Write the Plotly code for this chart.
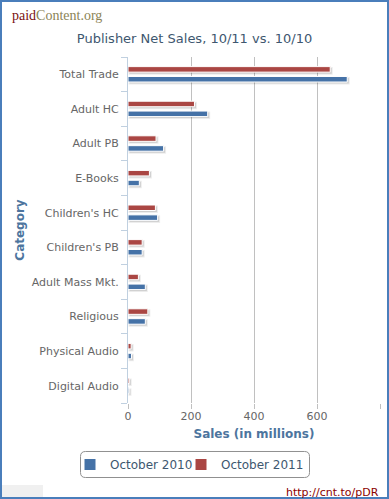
import plotly.graph_objects as go

categories = ["Total Trade", "Adult HC", "Adult PB", "E-Books", "Children's HC",
              "Children's PB", "Adult Mass Mkt.", "Religious", "Physical Audio", "Digital Audio"]
oct_2010 = [696, 253, 113, 36, 94, 45, 55, 55, 11, 3]
oct_2011 = [642, 211, 89, 68, 87, 45, 33, 63, 10, 4]
x_ticks = [0, 200, 400, 600, 800]

W, H = 389, 499
L, R, T, B = 128, 9, 57, 96
pw, ph = W - L - R, H - T - B

def px(x):
    return (x - L) / pw

def py(y):
    return (H - B - y) / ph

font_family = "DejaVu Sans, Verdana, sans-serif"
XR = [0, 800]
YR = [-0.5, len(categories) - 0.5]
# shadow offset (px) converted to axis units
sdx = 1.5 * (XR[1] - XR[0]) / pw
sdy = 1.5 * (YR[1] - YR[0]) / ph

fig = go.Figure()
series = [("October 2010", oct_2010, "#4572A7", 66), ("October 2011", oct_2011, "#AA4643", 90)]
# invisible copies on the main axes so that the visible axes get their categories
for name, vals, col, lw in series:
    fig.add_trace(go.Bar(
        y=categories, x=vals, name=name, orientation="h", showlegend=False,
        hoverinfo="skip", marker=dict(color=col, opacity=0),
    ))
# soft shadows (hidden, slightly shifted overlay axis pair)
for name, vals, col, lw in series:
    fig.add_trace(go.Bar(
        y=categories, x=vals, name=name, orientation="h", showlegend=False,
        hoverinfo="skip", xaxis="x2", yaxis="y2",
        marker=dict(color="rgba(0,0,0,0.13)", line=dict(color="rgba(0,0,0,0.07)", width=2)),
    ))
# visible bars
for name, vals, col, lw in series:
    fig.add_trace(go.Bar(
        y=categories, x=vals, name=name, orientation="h", xaxis="x3", yaxis="y3",
        legendwidth=lw,
        marker=dict(color=col, line=dict(color="white", width=1)),
    ))

hidden = dict(visible=False, showgrid=False, zeroline=False)
fig.update_layout(
    width=W, height=H,
    margin=dict(l=L, r=R, t=T, b=B, autoexpand=False),
    paper_bgcolor="white", plot_bgcolor="white",
    barmode="group", bargap=0.43, bargroupgap=0.44,
    font=dict(family=font_family, size=11, color="#666666"),
    title=dict(text="Publisher Net Sales, 10/11 vs. 10/10", x=0.5, xanchor="center",
               y=1 - 38 / H, yanchor="middle",
               font=dict(family=font_family, size=13, color="#3E576F")),
    showlegend=True,
    legend=dict(orientation="h", x=px(70), xanchor="left", y=py(450), yanchor="top",
                borderwidth=0, bgcolor="rgba(0,0,0,0)",
                font=dict(family=font_family, size=12, color="#3E576F"),
                traceorder="normal"),
    xaxis=dict(range=XR, tickvals=x_ticks, showgrid=True, gridcolor="#C0C0C0",
               gridwidth=1, zeroline=False, showline=False, ticks="outside",
               ticklen=5, tickcolor="#C0C0C0", ticklabelstandoff=-2,
               tickfont=dict(family=font_family, size=11, color="#666666"),
               title=dict(text="<b>Sales (in millions)</b>", standoff=7,
                          font=dict(family=font_family, size=12, color="#4D759E"))),
    yaxis=dict(categoryorder="array", categoryarray=categories[::-1], range=YR,
               showgrid=False, zeroline=False, showline=True, linecolor="#C0D0E0",
               ticks="outside", tickson="boundaries", ticklen=6, tickcolor="#C0D0E0",
               ticklabelstandoff=6,
               tickfont=dict(family=font_family, size=11, color="#666666"),
               title=dict(text="<b>Category</b>", standoff=4,
                          font=dict(family=font_family, size=12, color="#4D759E"))),
    xaxis2=dict(overlaying="x", range=[XR[0] - sdx, XR[1] - sdx], **hidden),
    yaxis2=dict(overlaying="y", categoryorder="array", categoryarray=categories[::-1],
                range=[YR[0] + sdy, YR[1] + sdy], **hidden),
    xaxis3=dict(overlaying="x", range=XR, **hidden),
    yaxis3=dict(overlaying="y", categoryorder="array", categoryarray=categories[::-1],
                range=YR, **hidden),
)

# outer frame
fig.add_shape(type="rect", xref="paper", yref="paper",
              x0=px(1), x1=px(388), y0=py(498), y1=py(1),
              line=dict(color="#4A7EBB", width=2), fillcolor="rgba(0,0,0,0)", layer="above")
# small gray tab bottom-left
fig.add_shape(type="rect", xref="paper", yref="paper",
              x0=px(2), x1=px(43), y0=py(497), y1=py(485),
              line=dict(width=0), fillcolor="#F0F0F0", layer="below")

# rounded legend box
bx0, bx1, by0, by1, r = 80.5, 309.5, 451.5, 477.5, 5
def P(x, y):
    return f"{px(x):.5f},{py(y):.5f}"
path = (f"M {P(bx0 + r, by0)} L {P(bx1 - r, by0)} Q {P(bx1, by0)} {P(bx1, by0 + r)} "
        f"L {P(bx1, by1 - r)} Q {P(bx1, by1)} {P(bx1 - r, by1)} "
        f"L {P(bx0 + r, by1)} Q {P(bx0, by1)} {P(bx0, by1 - r)} "
        f"L {P(bx0, by0 + r)} Q {P(bx0, by0)} {P(bx0 + r, by0)} Z")
fig.add_shape(type="path", xref="paper", yref="paper", path=path,
              line=dict(color="#909090", width=1), fillcolor="white", layer="below")

fig.add_annotation(
    text="<span style='color:#7A1010'>paid</span><span style='color:#8C8456'>Content.org</span>",
    xref="paper", yref="paper", x=px(10), y=py(16), xanchor="left", yanchor="middle",
    showarrow=False, font=dict(family="Liberation Serif, serif", size=14))
fig.add_annotation(
    text="http://cnt.to/pDR", xref="paper", yref="paper", x=px(381), y=py(492),
    xanchor="right", yanchor="middle", showarrow=False,
    font=dict(family=font_family, size=11, color="#8B0000"))

fig.write_html("out.html", config={"displayModeBar": False},
               post_script="document.body.style.margin='0px';document.body.style.overflow='hidden';")
